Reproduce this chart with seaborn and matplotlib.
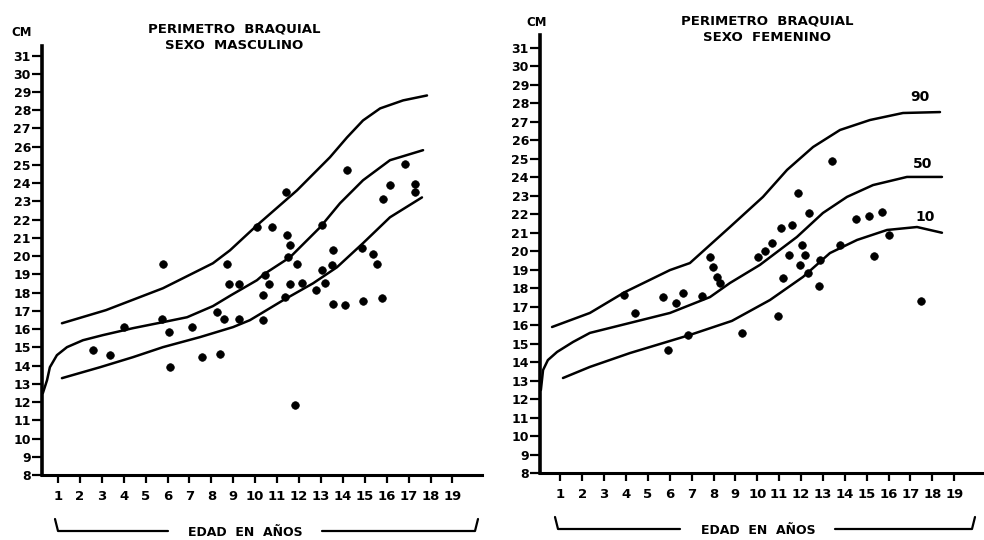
import matplotlib
matplotlib.use("Agg")
import matplotlib.pyplot as plt
import seaborn as sns
import pandas as pd

# ---------------- data ----------------
ages_ticks = list(range(1, 20))
cm_ticks = list(range(8, 32))

# Male (SEXO MASCULINO)
male_p90_age = [1.18, 3.19, 5.79, 8.07, 8.85, 10.08, 11.91, 13.41, 14.19, 14.92, 15.70, 16.75, 17.84]
male_p90_cm = [16.32, 17.04, 18.24, 19.61, 20.32, 21.69, 23.61, 25.42, 26.51, 27.44, 28.10, 28.54, 28.81]
male_p50_age = [0.31, 0.50, 0.63, 0.95, 1.41, 2.14, 3.05, 4.42, 5.79, 6.89, 8.07, 8.90, 10.08, 10.40,
                11.59, 12.96, 13.87, 14.92, 16.15, 17.66]
male_p50_cm = [12.49, 13.20, 13.91, 14.57, 15.01, 15.39, 15.67, 16.05, 16.38, 16.65, 17.26, 17.86, 18.68, 19.01,
               19.94, 21.58, 22.90, 24.16, 25.26, 25.81]
male_p10_age = [1.18, 2.92, 4.42, 5.79, 7.48, 8.99, 9.76, 11.27, 12.64, 13.73, 14.92, 16.15, 17.61]
male_p10_cm = [13.31, 13.91, 14.46, 15.01, 15.56, 16.11, 16.49, 17.58, 18.51, 19.39, 20.71, 22.13, 23.22]

male_age = [2.61, 3.37, 4.01, 5.73, 6.07, 6.11, 7.10, 7.59, 8.39, 8.24, 8.58, 8.79, 9.25, 9.25, 10.34,
            10.37, 10.45, 10.64, 11.36, 11.59, 12.12, 11.82, 12.78, 13.19, 13.04, 13.56, 14.10, 14.93,
            15.77, 5.81, 8.70, 10.07, 10.75, 11.41, 11.44, 11.59, 11.51, 11.89, 13.04, 13.56, 13.49,
            14.18, 14.86, 15.39, 15.55, 15.85, 16.15, 16.84, 17.29, 17.29]
male_cm = [14.88, 14.57, 16.09, 16.58, 15.85, 13.93, 16.12, 14.48, 14.66, 16.94, 16.58, 18.46, 18.46, 16.53,
           16.49, 17.86, 18.95, 18.46, 17.76, 18.46, 18.50, 11.83, 18.13, 18.50, 19.23, 17.40, 17.31, 17.55,
           17.73, 19.59, 19.59, 21.60, 21.60, 23.51, 21.14, 20.60, 19.96, 19.59, 21.69, 20.32, 19.50,
           24.70, 20.42, 20.14, 19.59, 23.15, 23.88, 25.07, 23.97, 23.51]

# Female (SEXO FEMENINO)
fem_p90_age = [0.62, 2.35, 3.95, 6.01, 6.92, 8.75, 10.26, 11.36, 12.55, 13.78, 15.15, 16.66, 18.35]
fem_p90_cm = [15.90, 16.66, 17.79, 18.98, 19.36, 21.31, 22.94, 24.40, 25.64, 26.56, 27.10, 27.48, 27.53]
fem_p50_age = [0.11, 0.21, 0.43, 0.85, 1.58, 2.35, 4.18, 6.01, 7.84, 8.75, 10.12, 11.81, 13.00, 14.10,
               15.29, 16.84, 18.44]
fem_p50_cm = [12.49, 13.57, 14.11, 14.55, 15.09, 15.58, 16.12, 16.66, 17.52, 18.28, 19.26, 20.77, 22.07,
              22.94, 23.58, 24.02, 24.02]
fem_p10_age = [1.12, 2.35, 4.18, 6.92, 8.84, 10.58, 12.09, 13.32, 14.56, 15.93, 17.30, 18.44]
fem_p10_cm = [13.14, 13.74, 14.49, 15.47, 16.23, 17.36, 18.61, 19.90, 20.61, 21.15, 21.31, 21.00]

fem_age = [3.90, 4.41, 5.68, 5.93, 6.28, 6.62, 6.82, 7.49, 8.14, 8.30, 9.29, 7.84, 7.99, 13.41, 11.85,
           12.38, 11.08, 11.57, 10.66, 10.35, 10.05, 11.43, 12.03, 12.18, 11.95, 12.33, 12.87, 11.19,
           12.83, 13.78, 14.51, 15.12, 15.69, 15.34, 16.00, 17.47, 10.93]
fem_cm = [17.63, 16.64, 17.51, 14.66, 17.18, 17.72, 15.47, 17.58, 18.62, 18.27, 15.56, 19.70, 19.16, 24.88,
          23.13, 22.05, 21.24, 21.42, 20.46, 20.01, 19.70, 19.80, 20.34, 19.80, 19.26, 18.81, 19.53, 18.57,
          18.12, 20.34, 21.73, 21.91, 22.14, 19.74, 20.88, 17.32, 16.50]

pct_labels = ["90", "50", "10"]
pct_label_age = [17.43, 17.56, 17.67]
pct_label_cm = [28.35, 24.72, 21.87]

titles = ["PERIMETRO  BRAQUIAL\nSEXO  MASCULINO", "PERIMETRO  BRAQUIAL\nSEXO  FEMENINO"]
xlabel = "EDAD  EN  AÑOS"
ylabel = "CM"

# ---------------- styling ----------------
sns.set_theme(style="white")
plt.rcParams["font.family"] = ["DejaVu Sans"]
plt.rcParams["font.weight"] = "bold"
plt.rcParams["text.color"] = "black"
plt.rcParams["xtick.color"] = "black"
plt.rcParams["ytick.color"] = "black"
plt.rcParams["axes.labelcolor"] = "black"

fig = plt.figure(figsize=(9.84, 5.40), dpi=100)
axL = fig.add_axes([42 / 984, 65 / 540, 440 / 984, 428.6 / 540])
axR = fig.add_axes([540 / 984, 67 / 540, 442 / 984, 438 / 540])

def style_axis(ax, xlim, ylim):
    ax.set_xlim(*xlim)
    ax.set_ylim(*ylim)
    for s in ["top", "right"]:
        ax.spines[s].set_visible(False)
    ax.spines["left"].set_linewidth(2.6)
    ax.spines["bottom"].set_linewidth(2.2)
    ax.spines["left"].set_color("black")
    ax.spines["bottom"].set_color("black")
    ax.set_xticks(ages_ticks)
    ax.set_yticks(cm_ticks)
    ax.set_xticklabels([str(a) for a in ages_ticks], fontsize=9.5, fontweight="bold", color="black")
    ax.set_yticklabels([str(c) for c in cm_ticks], fontsize=9, fontweight="bold", color="black")
    ax.tick_params(axis="y", direction="out", length=7, width=1.6, pad=1, left=True, colors="black")
    ax.tick_params(axis="x", direction="out", length=6, width=1.6, pad=5, bottom=True, colors="black")
    ax.set_xlabel("")
    ax.set_ylabel("")
    ax.grid(False)
    ax.set_facecolor("white")

def draw_curve(ax, xs, ys):
    df = pd.DataFrame({"age": xs, "cm": ys})
    sns.lineplot(data=df, x="age", y="cm", ax=ax, color="black", linewidth=1.8,
                 sort=False, estimator=None)

def draw_points(ax, xs, ys):
    df = pd.DataFrame({"age": xs, "cm": ys})
    sns.scatterplot(data=df, x="age", y="cm", ax=ax, color="black", s=30,
                    edgecolor="black", linewidth=0.5, zorder=3)

# Left panel: male
for xs, ys in [(male_p90_age, male_p90_cm), (male_p50_age, male_p50_cm), (male_p10_age, male_p10_cm)]:
    draw_curve(axL, xs, ys)
draw_points(axL, male_age, male_cm)
style_axis(axL, (0.27, 20.35), (8, 31.5))

# Right panel: female
for xs, ys in [(fem_p90_age, fem_p90_cm), (fem_p50_age, fem_p50_cm), (fem_p10_age, fem_p10_cm)]:
    draw_curve(axR, xs, ys)
draw_points(axR, fem_age, fem_cm)
style_axis(axR, (0.07, 20.27), (8, 31.7))
for lab, xa, ya in zip(pct_labels, pct_label_age, pct_label_cm):
    axR.text(xa, ya, lab, ha="center", va="center", fontsize=10, fontweight="bold", color="black")

# Titles and "CM" labels
fig.text(234 / 984, 1 - 37 / 540, titles[0], ha="center", va="center", fontsize=9.5,
         fontweight="bold", linespacing=1.35, color="black")
fig.text(767 / 984, 1 - 29 / 540, titles[1], ha="center", va="center", fontsize=9.5,
         fontweight="bold", linespacing=1.35, color="black")
fig.text(22 / 984, 1 - 33 / 540, ylabel, ha="center", va="center", fontsize=8.5, fontweight="bold", color="black")
fig.text(537 / 984, 1 - 23 / 540, ylabel, ha="center", va="center", fontsize=8.5, fontweight="bold", color="black")

# "EDAD EN AÑOS" brackets below each x axis
def bracket(x0, x1, tx0, tx1, y, yend, tcenter):
    X = lambda p: p / 984
    Y = lambda p: 1 - p / 540
    fig.add_artist(plt.Line2D([X(x0 - 3), X(x0), X(tx0)], [Y(yend), Y(y), Y(y)], color="black", lw=1.6))
    fig.add_artist(plt.Line2D([X(tx1), X(x1), X(x1 + 3)], [Y(y), Y(y), Y(yend)], color="black", lw=1.6))
    fig.text(X(tcenter), Y(y + 1), xlabel, ha="center", va="center", fontsize=9, fontweight="bold", color="black")

bracket(58, 475, 168, 322, 531, 519, 245)
bracket(558, 972, 680, 835, 529, 517, 758)

fig.savefig("out.png", dpi=100, facecolor="white")
